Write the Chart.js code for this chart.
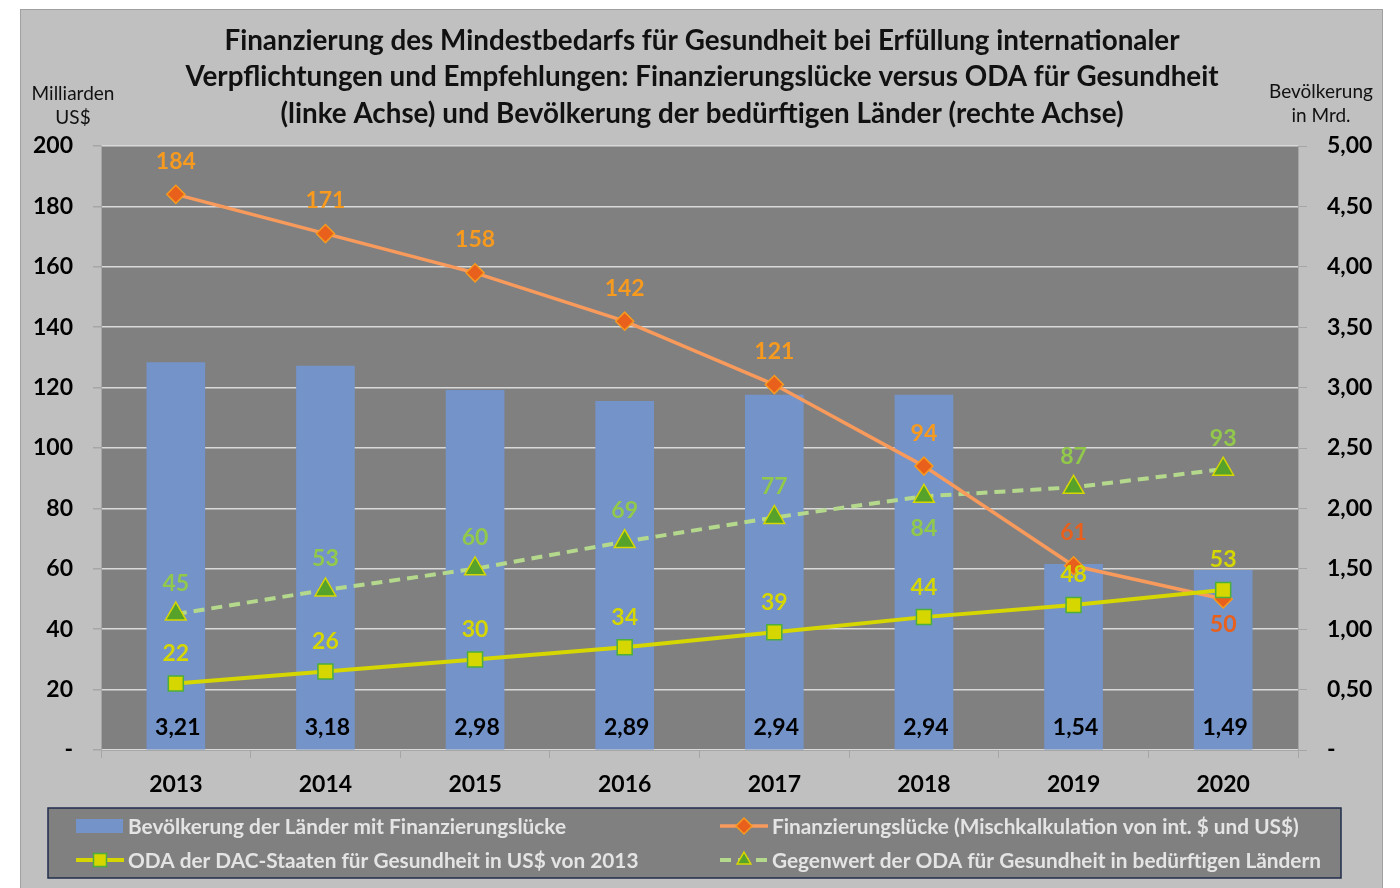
<!DOCTYPE html>
<html><head><meta charset="utf-8">
<script src="https://cdn.jsdelivr.net/npm/chart.js@4.4.1/dist/chart.umd.min.js"></script>
<style>html,body{margin:0;padding:0;background:#fff}canvas{display:block}</style>
</head><body>
<canvas id="c" width="1400" height="888"></canvas>
<script>
// ---------- DATA ----------
const years = ['2013','2014','2015','2016','2017','2018','2019','2020'];
const population = [3.21, 3.18, 2.98, 2.89, 2.94, 2.94, 1.54, 1.49];     // Mrd. (right axis)
const fundingGap = [184, 171, 158, 142, 121, 94, 61, 50];                 // Mrd. US$ (left axis)
const odaDac = [22, 26, 30, 34, 39, 44, 48, 53];                          // Mrd. US$
const odaEquivalent = [45, 53, 60, 69, 77, 84, 87, 93];                   // Mrd. US$
const leftAxisMax = 200, leftAxisStep = 20;
const rightAxisMax = 5, rightAxisStep = 0.5;

const titleLines = [
  'Finanzierung des Mindestbedarfs für Gesundheit bei Erfüllung internationaler',
  'Verpflichtungen und Empfehlungen: Finanzierungslücke versus ODA für Gesundheit',
  '(linke Achse) und Bevölkerung der bedürftigen Länder (rechte Achse)'
];
const leftUnit = ['Milliarden', 'US$'];
const rightUnit = ['Bevölkerung', 'in Mrd.'];
const seriesNames = [
  'Bevölkerung der Länder mit Finanzierungslücke',
  'Finanzierungslücke (Mischkalkulation von int. $ und US$)',
  'ODA der DAC-Staaten für Gesundheit in US$ von 2013',
  'Gegenwert der ODA für Gesundheit in bedürftigen Ländern'
];

// label placement (style, not data)
const gapLabelPlace   = ['a','a','a','a','a','a','a','b'];
const odaLabelPlace   = ['a','a','a','a','a','a','a','a'];
const equivLabelPlace = ['a','a','a','a','a','b','a','a'];
const gapLabelColors  = ['#f79a1e','#f79a1e','#f79a1e','#f79a1e','#f79a1e','#f79a1e','#e8601c','#e8601c'];

const FONT = 'Lato, "Open Sans", sans-serif';
const fmt = v => v.toFixed(2).replace('.', ',');

// ---------- PLUGINS ----------
const bgPlugin = {
  id: 'bg',
  beforeDraw(chart) {
    const ctx = chart.ctx, a = chart.chartArea;
    ctx.save();
    ctx.fillStyle = '#fff';
    ctx.fillRect(0, 0, chart.width, chart.height);
    ctx.fillStyle = '#c0c0c0';
    ctx.fillRect(20, 9, 1363, 890);
    ctx.strokeStyle = '#a0a0a0';
    ctx.lineWidth = 1;
    ctx.strokeRect(20.5, 9.5, 1362, 890);
    ctx.fillStyle = '#808080';
    ctx.fillRect(a.left, a.top, a.right - a.left, a.bottom - a.top);
    // title
    ctx.fillStyle = '#111';
    ctx.textAlign = 'center';
    ctx.textBaseline = 'middle';
    ctx.font = 'bold 27.8px ' + FONT;
    titleLines.forEach((t, i) => ctx.fillText(t, 702, 41 + i * 36.5));
    // unit labels
    ctx.font = '19px ' + FONT;
    ctx.fillStyle = '#111';
    leftUnit.forEach((t, i) => ctx.fillText(t, 73, 94 + i * 24));
    rightUnit.forEach((t, i) => ctx.fillText(t, 1321, 92 + i * 24));
    ctx.restore();
  }
};

function drawMarker(ctx, style, x, y, r, fill, stroke, lw) {
  ctx.save();
  ctx.fillStyle = fill; ctx.strokeStyle = stroke; ctx.lineWidth = lw;
  ctx.beginPath();
  if (style === 'rect') {
    ctx.rect(x - r, y - r, 2 * r, 2 * r);
  } else if (style === 'rectRot') {
    ctx.moveTo(x, y - r); ctx.lineTo(x + r, y); ctx.lineTo(x, y + r); ctx.lineTo(x - r, y); ctx.closePath();
  } else if (style === 'triangle') {
    ctx.moveTo(x, y - r); ctx.lineTo(x + r * 0.866, y + r * 0.5); ctx.lineTo(x - r * 0.866, y + r * 0.5); ctx.closePath();
  }
  ctx.fill(); ctx.stroke();
  ctx.restore();
}

const legendPlugin = {
  id: 'customLegend',
  afterDraw(chart) {
    const ctx = chart.ctx;
    ctx.save();
    ctx.fillStyle = '#808080';
    ctx.fillRect(48, 808, 1293, 70);
    ctx.strokeStyle = '#1f2d4a';
    ctx.lineWidth = 1.5;
    ctx.strokeRect(48, 808, 1293, 70);
    const ds = chart.data.datasets;
    const slots = [
      {x: 76, y: 826}, {x: 720, y: 826},
      {x: 76, y: 860}, {x: 720, y: 860}
    ];
    ds.forEach((d, i) => {
      const s = slots[i];
      if (d.type === 'bar') {
        ctx.fillStyle = d.backgroundColor;
        ctx.fillRect(s.x, s.y - 7, 47, 14);
      } else {
        ctx.save();
        ctx.strokeStyle = d.borderColor;
        ctx.lineWidth = d.borderWidth;
        ctx.setLineDash(d.borderDash || []);
        ctx.beginPath(); ctx.moveTo(s.x, s.y); ctx.lineTo(s.x + 48, s.y); ctx.stroke();
        ctx.restore();
        drawMarker(ctx, d.pointStyle, s.x + 24, s.y, d.legendMarkerR, d.pointBackgroundColor, d.pointBorderColor, d.pointBorderWidth);
      }
      ctx.fillStyle = '#e4e4e4';
      ctx.font = 'bold 20.8px ' + FONT;
      ctx.textAlign = 'left';
      ctx.textBaseline = 'middle';
      ctx.fillText(d.label, s.x + 52, s.y + 1);
    });
    ctx.restore();
  }
};

const labelPlugin = {
  id: 'valueLabels',
  afterDatasetsDraw(chart) {
    const ctx = chart.ctx, a = chart.chartArea;
    ctx.save();
    ctx.textAlign = 'center';
    ctx.textBaseline = 'middle';
    ctx.font = 'bold 23px ' + FONT;
    chart.data.datasets.forEach((d, di) => {
      const meta = chart.getDatasetMeta(di);
      meta.data.forEach((el, i) => {
        const v = d.data[i];
        if (d.type === 'bar') {
          ctx.fillStyle = '#000';
          ctx.fillText(fmt(v), el.x + 2, a.bottom - 22);
        } else {
          const place = d.labelPlace[i];
          const dy = place === 'a' ? -d.labelGap : d.labelGapBelow;
          ctx.fillStyle = Array.isArray(d.labelColor) ? d.labelColor[i] : d.labelColor;
          ctx.fillText(String(v), el.x, el.y + dy);
        }
      });
    });
    ctx.restore();
  }
};

// ---------- CHART ----------
const tickFont = {family: FONT, size: 23, weight: 'bold'};
new Chart(document.getElementById('c'), {
  data: {
    labels: years,
    datasets: [
      {
        type: 'bar', label: seriesNames[0], data: population, yAxisID: 'yR',
        backgroundColor: '#7393c9', barPercentage: 0.392, categoryPercentage: 1, order: 4
      },
      {
        type: 'line', label: seriesNames[1], data: fundingGap, yAxisID: 'yL',
        borderColor: '#f79a5c', borderWidth: 3.5, pointStyle: 'rectRot', pointRadius: 9,
        pointBackgroundColor: '#e8601c', pointBorderColor: '#f79a1e', pointBorderWidth: 1.5,
        legendMarkerR: 8, labelPlace: gapLabelPlace, labelColor: gapLabelColors,
        labelGap: 33, labelGapBelow: 26, order: 2
      },
      {
        type: 'line', label: seriesNames[2], data: odaDac, yAxisID: 'yL',
        borderColor: '#d6d600', borderWidth: 4, pointStyle: 'rect', pointRadius: 10.6,
        pointBackgroundColor: '#d6d600', pointBorderColor: '#4caf3c', pointBorderWidth: 1.5,
        legendMarkerR: 6.5, labelPlace: odaLabelPlace, labelColor: '#d6d600',
        labelGap: 30, labelGapBelow: 26, order: 1
      },
      {
        type: 'line', label: seriesNames[3], data: odaEquivalent, yAxisID: 'yL',
        borderColor: '#b5d98c', borderWidth: 4, borderDash: [11, 7], pointStyle: 'triangle', pointRadius: 12,
        pointBackgroundColor: '#56a22a', pointBorderColor: '#d6d600', pointBorderWidth: 1.5,
        legendMarkerR: 8, labelPlace: equivLabelPlace, labelColor: '#92c94a',
        labelGap: 31, labelGapBelow: 32, order: 3
      }
    ]
  },
  options: {
    responsive: false,
    animation: false,
    devicePixelRatio: 1,
    layout: {padding: {top: 146, bottom: 88, left: 0, right: 0}},
    plugins: {legend: {display: false}, title: {display: false}, tooltip: {enabled: false}},
    elements: {line: {tension: 0}},
    scales: {
      x: {
        grid: {display: true, drawOnChartArea: false, offset: true, tickLength: 8, color: '#a6a6a6', lineWidth: 1},
        border: {color: '#a6a6a6'},
        ticks: {font: tickFont, color: '#000', padding: 13},
        afterFit(s) { s.height = 50; }
      },
      yL: {
        position: 'left', min: 0, max: leftAxisMax,
        ticks: {stepSize: leftAxisStep, font: tickFont, color: '#000', padding: 20,
                callback: v => v === 0 ? '-' : String(v)},
        grid: {color: '#d9d9d9', lineWidth: 1.5, tickColor: '#a6a6a6', tickLength: 8},
        border: {color: '#a6a6a6'},
        afterFit(s) { s.width = 101; }
      },
      yR: {
        position: 'right', min: 0, max: rightAxisMax,
        ticks: {stepSize: rightAxisStep, font: tickFont, color: '#000', padding: 20,
                callback: v => v === 0 ? '-' : fmt(v)},
        grid: {drawOnChartArea: false, tickColor: '#a6a6a6', tickLength: 9},
        border: {color: '#a6a6a6'},
        afterFit(s) { s.width = 102; }
      }
    }
  },
  plugins: [bgPlugin, labelPlugin, legendPlugin]
});
</script>
</body></html>
